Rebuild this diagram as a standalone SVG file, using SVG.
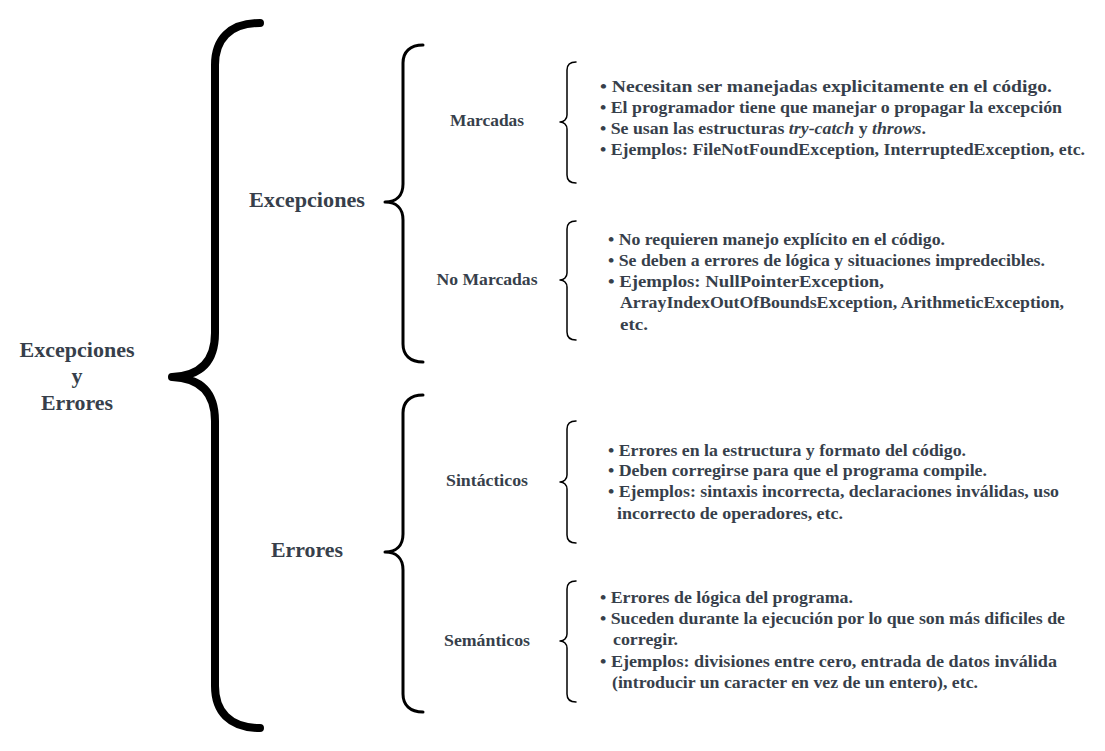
<svg xmlns="http://www.w3.org/2000/svg" width="1105" height="751" viewBox="0 0 1105 751">
<style>
.t{font-family:"Liberation Serif","Times New Roman",serif;font-weight:bold;fill:#373f4b}
.h1{font-size:22px}
.h2{font-size:21px}
.h3{font-size:17px}
.b{font-size:17px}
.br{fill:none;stroke:#000;stroke-linecap:round;stroke-linejoin:round}
</style>
<rect width="1105" height="751" fill="#fff"/>
<g id="connectors">
<path class="br" stroke-width="8" d="M260,23 C229,23 215,40 215,65 L215,333 C215,362 200,376 172,377 C200,378 215,392 215,421 L215,686 C215,711 229,728 260,728"/>
<path class="br" stroke-width="3" d="M423,45 C410,45 403,52 403,63 L403,184 C403,196 396,202 385,202 C396,202 403,208 403,220 L403,344 C403,355 410,362 423,362"/>
<path class="br" stroke-width="3" d="M423,395 C410,395 403,402 403,413 L403,534 C403,546 396,552 385,552 C396,552 403,558 403,570 L403,694 C403,705 410,712 423,712"/>
<path class="br" stroke-width="1.5" d="M576,62 C570,62 567,65 567,70 L567,115 C567,119 564,122 560,122 C564,122 567,125 567,129 L567,175 C567,180 570,183 576,183"/>
<path class="br" stroke-width="1.5" d="M576,221 C570,221 567,224 567,229 L567,273 C567,277 564,280 560,280 C564,280 567,283 567,287 L567,332 C567,337 570,340 576,340"/>
<path class="br" stroke-width="1.5" d="M576,421 C570,421 567,424 567,429 L567,475 C567,479 564,482 560,482 C564,482 567,485 567,489 L567,535 C567,540 570,543 576,543"/>
<path class="br" stroke-width="1.5" d="M576,581 C570,581 567,584 567,589 L567,634 C567,638 564,641 560,641 C564,641 567,644 567,648 L567,694 C567,699 570,702 576,702"/>
</g>
<g id="root">
<text class="t h1" x="77" y="357" text-anchor="middle" textLength="115" lengthAdjust="spacingAndGlyphs">Excepciones</text>
<text class="t h1" x="77" y="383" text-anchor="middle">y</text>
<text class="t h1" x="77" y="410" text-anchor="middle" textLength="72" lengthAdjust="spacingAndGlyphs">Errores</text>
</g>
<g id="excepciones">
<text class="t h2" x="307" y="207" text-anchor="middle" textLength="116" lengthAdjust="spacingAndGlyphs">Excepciones</text>
</g>
<g id="errores">
<text class="t h2" x="307" y="557" text-anchor="middle" textLength="72" lengthAdjust="spacingAndGlyphs">Errores</text>
</g>
<g id="marcadas">
<text class="t h3" x="487" y="126" text-anchor="middle" textLength="74" lengthAdjust="spacingAndGlyphs">Marcadas</text>
</g>
<g id="marcadas-detalle">
<text class="t b" x="600" y="92" textLength="452" lengthAdjust="spacingAndGlyphs">• Necesitan ser manejadas explicitamente en el código.</text>
<text class="t b" x="600" y="113" textLength="462" lengthAdjust="spacingAndGlyphs">• El programador tiene que manejar o propagar la excepción</text>
<text class="t b" x="600" y="134" textLength="326" lengthAdjust="spacingAndGlyphs">• Se usan las estructuras <tspan font-style="italic">try-catch</tspan> y <tspan font-style="italic">throws</tspan>.</text>
<text class="t b" x="600" y="155" textLength="485" lengthAdjust="spacingAndGlyphs">• Ejemplos: FileNotFoundException, InterruptedException, etc.</text>
</g>
<g id="no-marcadas">
<text class="t h3" x="487" y="285" text-anchor="middle" textLength="101" lengthAdjust="spacingAndGlyphs">No Marcadas</text>
</g>
<g id="no-marcadas-detalle">
<text class="t b" x="608" y="245" textLength="337" lengthAdjust="spacingAndGlyphs">• No requieren manejo explícito en el código.</text>
<text class="t b" x="608" y="266" textLength="437" lengthAdjust="spacingAndGlyphs">• Se deben a errores de lógica y situaciones impredecibles.</text>
<text class="t b" x="608" y="287" textLength="276" lengthAdjust="spacingAndGlyphs">• Ejemplos: NullPointerException,</text>
<text class="t b" x="620" y="308" textLength="444" lengthAdjust="spacingAndGlyphs">ArrayIndexOutOfBoundsException, ArithmeticException,</text>
<text class="t b" x="620" y="330" textLength="28" lengthAdjust="spacingAndGlyphs">etc.</text>
</g>
<g id="sintacticos">
<text class="t h3" x="487" y="486" text-anchor="middle" textLength="82" lengthAdjust="spacingAndGlyphs">Sintácticos</text>
</g>
<g id="sintacticos-detalle">
<text class="t b" x="608" y="456" textLength="358" lengthAdjust="spacingAndGlyphs">• Errores en la estructura y formato del código.</text>
<text class="t b" x="608" y="476" textLength="379" lengthAdjust="spacingAndGlyphs">• Deben corregirse para que el programa compile.</text>
<text class="t b" x="608" y="497" textLength="451" lengthAdjust="spacingAndGlyphs">• Ejemplos: sintaxis incorrecta, declaraciones inválidas, uso</text>
<text class="t b" x="617" y="519" textLength="226" lengthAdjust="spacingAndGlyphs">incorrecto de operadores, etc.</text>
</g>
<g id="semanticos">
<text class="t h3" x="487" y="646" text-anchor="middle" textLength="86" lengthAdjust="spacingAndGlyphs">Semánticos</text>
</g>
<g id="semanticos-detalle">
<text class="t b" x="600" y="603" textLength="253" lengthAdjust="spacingAndGlyphs">• Errores de lógica del programa.</text>
<text class="t b" x="600" y="624" textLength="465" lengthAdjust="spacingAndGlyphs">• Suceden durante la ejecución por lo que son más dificiles de</text>
<text class="t b" x="613" y="645" textLength="65" lengthAdjust="spacingAndGlyphs">corregir.</text>
<text class="t b" x="600" y="667" textLength="457" lengthAdjust="spacingAndGlyphs">• Ejemplos: divisiones entre cero, entrada de datos inválida</text>
<text class="t b" x="612" y="688" textLength="366" lengthAdjust="spacingAndGlyphs">(introducir un caracter en vez de un entero), etc.</text>
</g>
</svg>
